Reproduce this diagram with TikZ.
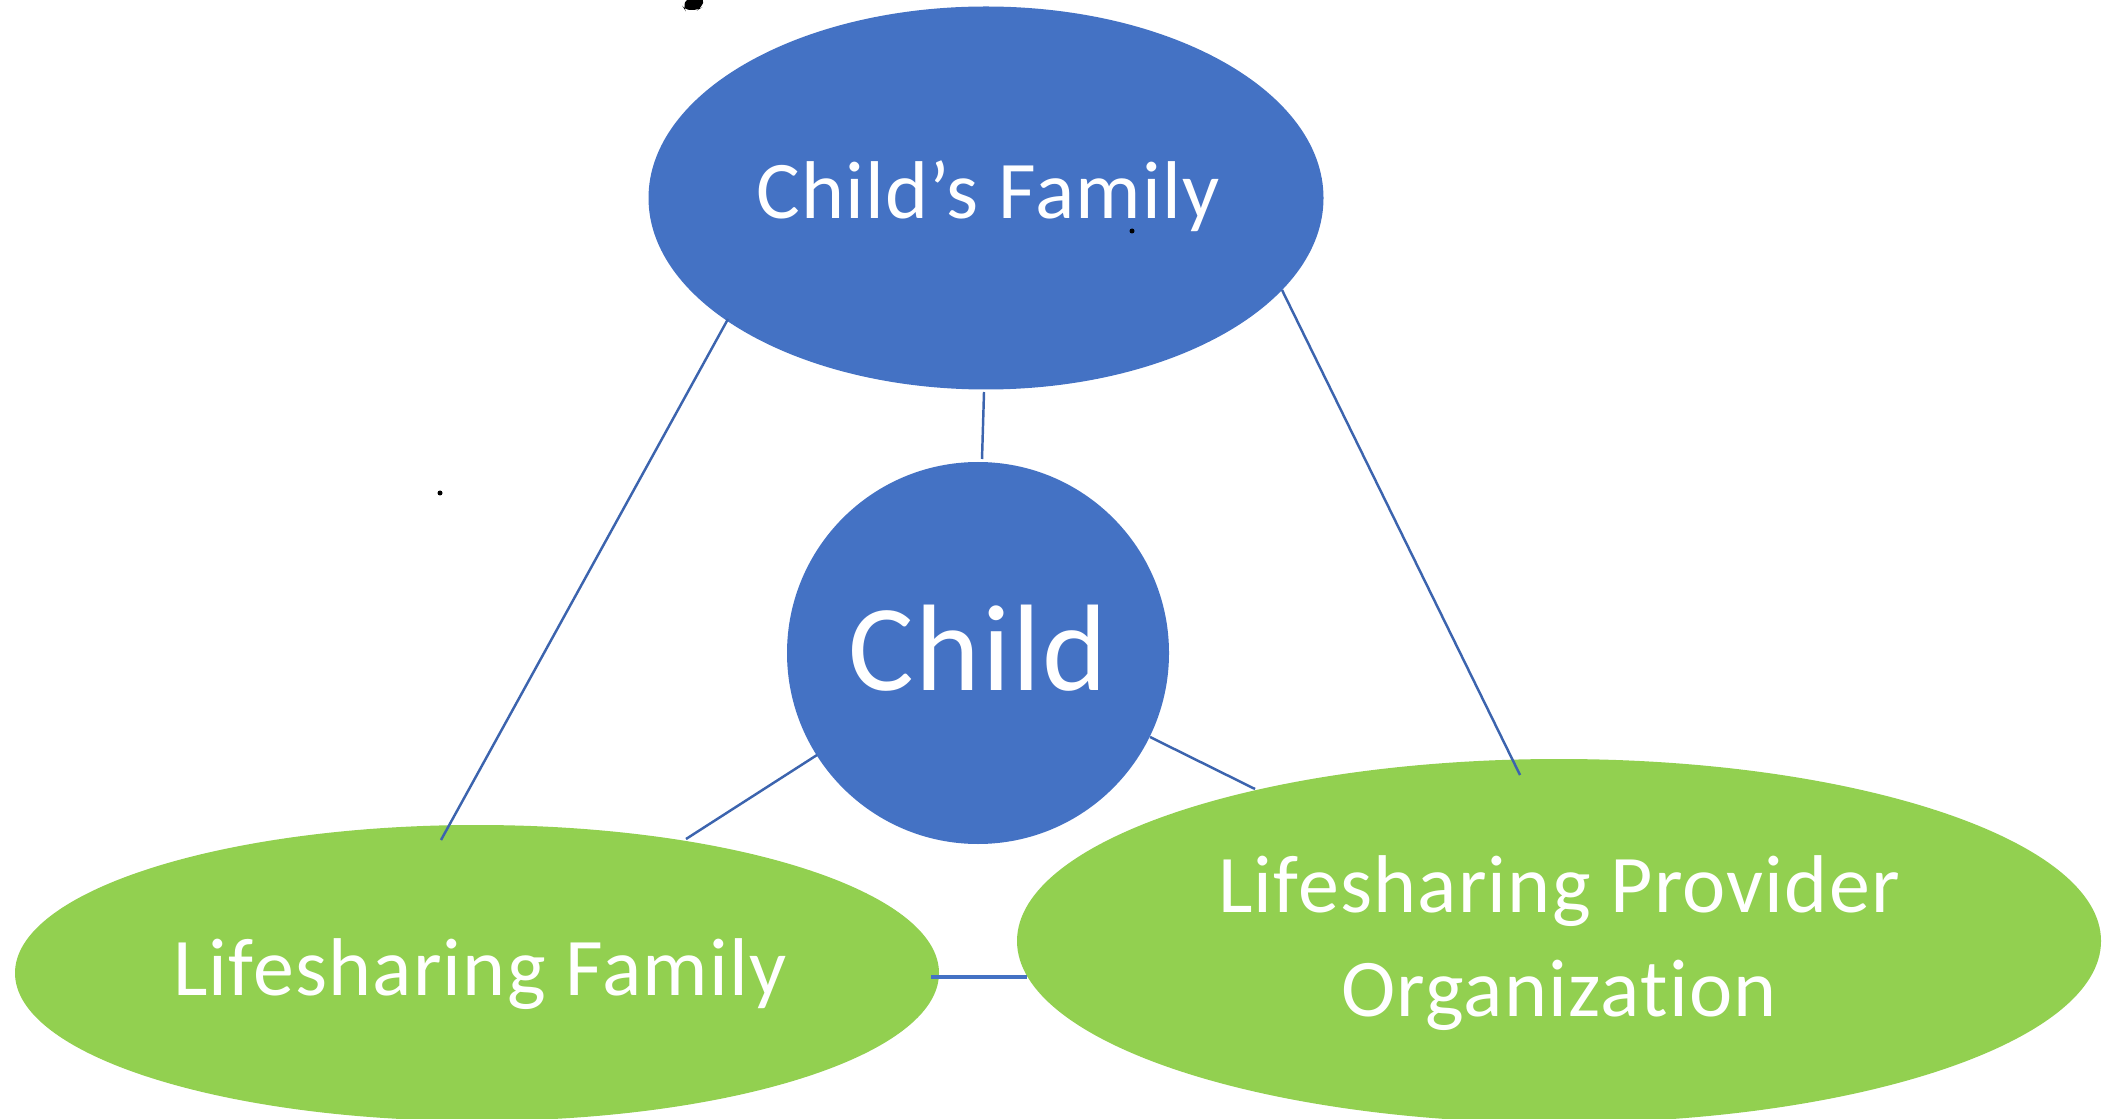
\documentclass[tikz,border=0pt]{standalone}
\usepackage{fontspec}
\setmainfont{Carlito}[Ligatures={NoCommon,NoRare},LetterSpace=1.5]
\usetikzlibrary{shapes.geometric}
\definecolor{accentblue}{HTML}{4472C4}
\definecolor{accentgreen}{HTML}{92D050}
\definecolor{linkblue}{HTML}{3C64AE}
\begin{document}
\begin{tikzpicture}[x=0.01cm,y=-0.01cm,
  blob/.style={ellipse,inner sep=0pt,text=white,align=center},
  bluebox/.style={blob,fill=accentblue},
  greenbox/.style={blob,fill=accentgreen},
  label24/.style={font=\fontsize{23.3}{29.5}\selectfont},
  link/.style={draw=linkblue,line width=0.7pt},
  dot/.style={fill=black}]
\useasboundingbox (0,0) rectangle (2113,1119);

% main shapes
\node[bluebox,minimum width=675*0.01cm,minimum height=383*0.01cm] (cf) at (986,198) {};
\node[bluebox,circle,minimum size=382*0.01cm] (child) at (978,653) {};
\node[greenbox,minimum width=924*0.01cm,minimum height=296*0.01cm] (lf) at (477,973) {};
\node[greenbox,minimum width=1084*0.01cm,minimum height=364*0.01cm] (lpo) at (1559,941) {};

% labels
\node[text=white,label24] (cft) at (988,196) {Child’s Family};
\node[text=white,font=\fontsize{35}{40}\selectfont] (childt) at (978,648) {Child};
\node[text=white,label24] (lft) at (480,974) {Lifesharing Family};
\node[text=white,label24,align=center] (lpot) at (1559,943) {Lifesharing Provider\\Organization};

% connector end points
\coordinate (cfA) at (984,392);  \coordinate (chA) at (982,459);
\coordinate (cfB) at (728,319);  \coordinate (lfB) at (441,840);
\coordinate (cfC) at (1282,290); \coordinate (lpoC) at (1520,775);
\coordinate (chD) at (817,755);  \coordinate (lfD) at (686,839);
\coordinate (chE) at (1150,737); \coordinate (lpoE) at (1255,789);
\coordinate (lfF) at (931,977);  \coordinate (lpoF) at (1027,977);

% connectors
\draw[link] (cfA) -- (chA);
\draw[link] (cfB) -- (lfB);
\draw[link] (cfC) -- (lpoC);
\draw[link] (chD) -- (lfD);
\draw[link] (chE) -- (lpoE);
\draw[draw=accentblue,line width=1.2pt] (lfF) -- (lpoF);

% small marks
\fill[dot] (440,493) circle (2.5);
\fill[dot] (1132,231) circle (2.5);
\fill[black,rounded corners=1.5] (687,-2) -- (705,-2) -- (701,8) -- (698,10) -- (685,10) -- (683,7) -- cycle;
\end{tikzpicture}
\end{document}
